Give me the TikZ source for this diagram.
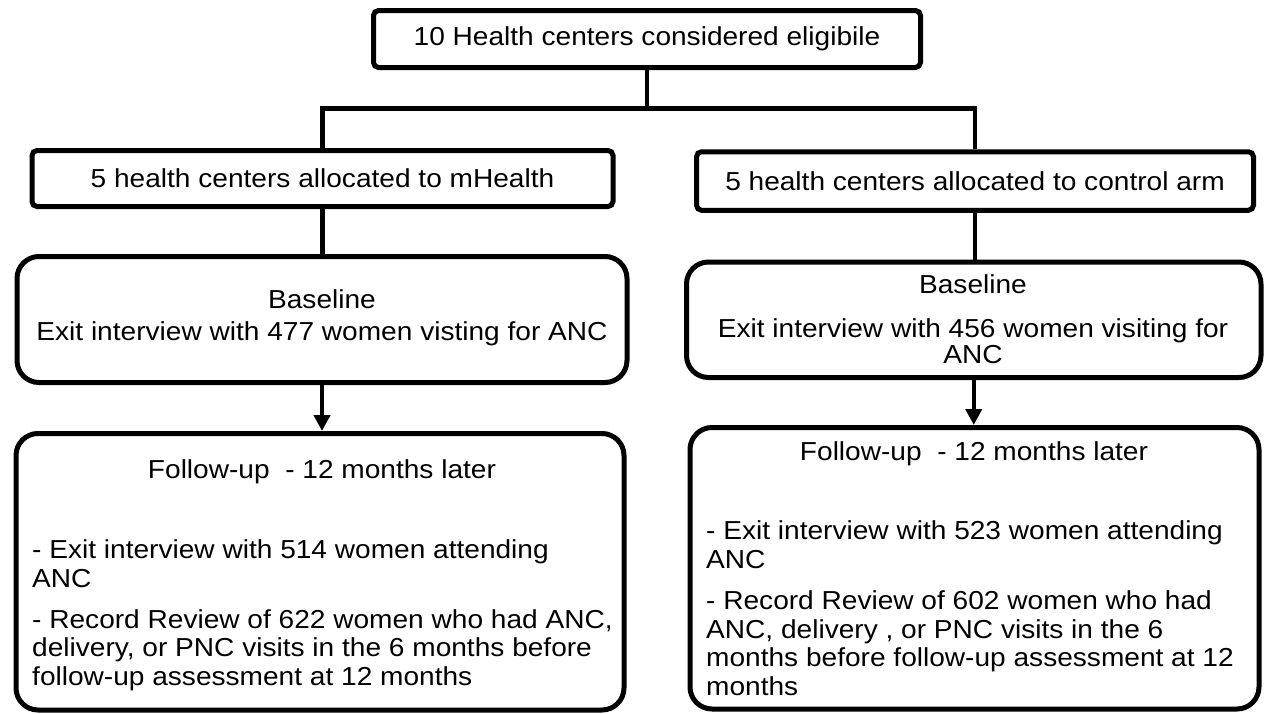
\documentclass[tikz,border=0pt]{standalone}
\usepackage{fontspec}
\setmainfont[FakeStretch=1.08]{Liberation Sans}
\usetikzlibrary{arrows.meta}

\begin{document}
\begin{tikzpicture}[x=1pt, y=-1pt,
		box/.style={draw, line width=5pt, rounded corners=5pt, inner sep=0pt, font=\fontsize{26}{28.5}\selectfont},
		bigbox/.style={box, rounded corners=22pt},
		txt/.style={inner sep=0pt, font=\fontsize{26}{28.5}\selectfont},
		link/.style={line width=4.5pt},
		arrow/.style={link, -{Triangle[length=16pt, width=16pt]}}]
			\useasboundingbox (0,0) rectangle (1267,713);

			% Boxes
			\node[box, minimum width=547pt, minimum height=57pt] (eligible) at (647,39) {10 Health centers considered eligibile};
			\node[box, minimum width=581pt, minimum height=56pt] (mhealth) at (322.5,178.5) {5 health centers allocated to mHealth};
			\node[box, minimum width=557pt, minimum height=58.5pt] (control) at (975,181) {5 health centers allocated to control arm};
			\node[bigbox, minimum width=610pt, minimum height=126pt] (baseL) at (322,319.5) {};
			\node[bigbox, minimum width=574.5pt, minimum height=115.5pt] (baseR) at (973.75,319.75) {};
			\node[bigbox, minimum width=608pt, minimum height=276.5pt] (followL) at (320,571.75) {};
			\node[bigbox, minimum width=569pt, minimum height=281.5pt] (followR) at (974.5,568.25) {};

			% Connectors
			\coordinate (split) at (647,108.5);
			\draw[link] (eligible.south) -- (split);
			\draw[link] (mhealth.north) |- (split) -| (control.north);
			\draw[link] (mhealth.south) -- (mhealth.south |- baseL.north);
			\draw[link] (control.south) -- (control.south |- baseR.north);
			\draw[arrow] (baseL.south) -- (baseL.south |- followL.north);
			\draw[arrow] (baseR.south) -- (baseR.south |- followR.north);

			% Baseline texts
			\node[txt, anchor=base] (baseLhead) at (322,308) {Baseline};
			\node[txt, anchor=base] (baseLtext) at (322,340) {Exit interview with 477 women visting for ANC};
			\node[txt, anchor=base] (baseRhead) at (973,293) {Baseline};
			\node[txt, anchor=base] (baseRtext) at (973,337) {Exit interview with 456 women visiting for};
			\node[txt, anchor=base] (baseRanc) at (973,363.5) {ANC};

			% Follow-up texts, left (base = last line)
			\node[txt, anchor=base] (followLhead) at (322,478) {Follow-up~ - 12 months later};
			\node[txt, anchor=base west, align=left] (followLexit) at (32,587) {- Exit interview with 514 women attending\\ANC};
			\node[txt, anchor=base west, align=left] (followLrecord) at (32,685) {- Record Review of 622 women who had ANC,\\delivery, or PNC visits in the 6 months before\\follow-up assessment at 12 months};

			% Follow-up texts, right
			\node[txt, anchor=base] (followRhead) at (974,460) {Follow-up~ - 12 months later};
			\node[txt, anchor=base west, align=left] (followRexit) at (706,568) {- Exit interview with 523 women attending\\ANC};
			\node[txt, anchor=base west, align=left] (followRrecord) at (706,695) {- Record Review of 602 women who had\\ANC, delivery , or PNC visits in the 6\\months before follow-up assessment at 12\\months};
		\end{tikzpicture}
\end{document}
